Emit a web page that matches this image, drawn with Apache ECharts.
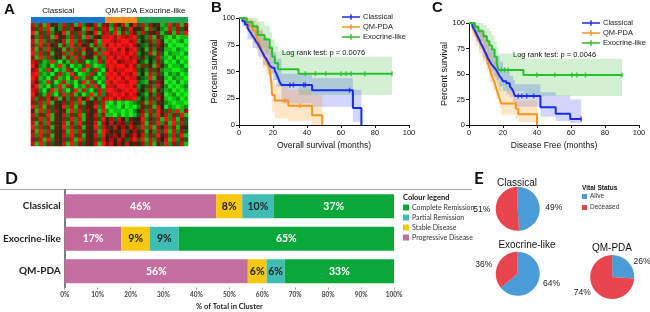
<!DOCTYPE html>
<html><head><meta charset="utf-8">
<script src="https://cdn.jsdelivr.net/npm/echarts@6/dist/echarts.min.js"></script>
<style>html,body{margin:0;padding:0;background:#fff}#c{width:650px;height:312px}</style>
</head><body><div id="c"></div>
<script>
// ---------- Panel A: heatmap ----------
const heatGroups = ['Classical', 'QM-PDA', 'Exocrine-like'];
const heatGroupSizes = [19, 8, 13];
// each row: Classical(19) | QM-PDA(8) | Exocrine-like(13); 0 = green ... 9 = red
const heatRows = [
  "82719 46283 71926 4817|62748159|3827461 293817",
  "73829 15273 84619 2738|71826394|4718352 182736",
  "91738 26491 73826 4917|83917286|2836471 371829",
  "62837 19462 83719 2648|89798789|3428163 102011",
  "81927 36481 92736 4819|98789978|2537284 010120",
  "72938 46172 93846 1729|79898897|4326375 201001",
  "81729 34617 28394 6172|88979689|3517264 110210",
  "92837 16482 93716 4829|97889798|2438173 021102",
  "71928 34617 29384 6172|89798978|3624382 102010",
  "87312 92031 82730 2183|98967889|4315273 010201",
  "96213 02913 02139 2012|89899797|2736184 201120",
  "78129 30218 30291 3820|79788998|3427362 110012",
  "89212 03821 93012 8302|98979879|2518273 021201",
  "97120 38120 39218 3021|89897988|4329164 102110",
  "86219 30281 20391 8302|97988799|3216375 010201",
  "79120 32918 30218 2930|88799897|2437284 201012",
  "87203 91820 39182 0382|99878989|3528163 120101",
  "96318 20392 81302 9182|78989798|4316274 012010",
  "82739 48162 73948 1627|89797889|2427385 101201",
  "73829 16473 82916 4738|10201012|3718264 210110",
  "92817 36492 81736 4928|01102010|2637185 021012",
  "61928 37461 92837 4619|20110102|4728396 382917",
  "82739 16482 73916 4827|11020101|3817294 827391",
  "73928 16473 92816 4739|47385264|5926381 928173",
  "81729 36481 72936 4817|58476375|4817392 719283",
  "92837 16492 83716 4928|64857486|3928174 827164",
  "71928 36471 92836 4719|75648357|4716283 918273",
  "82937 16482 93716 4829|46758468|5827394 728391",
  "73819 26473 81926 4738|57486379|3918275 819273",
  "81927 36481 92736 4819|68574846|4728163 927381"
];

// ---------- Panels B / C: Kaplan-Meier ----------
const kmGroups = ['Classical', 'QM-PDA', 'Exocrine-like'];
const osClassical = [[0,100],[2,97],[3.5,94],[5,91],[6,88],[7,86],[8,83],[9,81],[10,78],[11,76],[12,73],[13,70],[14,67],[15,64],[16,62],[17,59],[18,56],[19,54],[20,53],[21,51],[22,48],[23,44],[24,40],[25,37.5],[43,32.5],[67,16],[72,0]];
const osQM = [[0,100],[3.5,96],[6,92],[8,88],[10,84],[11,80],[12,76],[13,72],[14,68],[15,64],[16,60],[17,56],[18,52],[19,40],[19.5,28],[21,23],[29,18],[43,9],[49,0]];
const osExo = [[0,100],[4.5,96],[8,92],[11,84],[15,80],[18,72],[19.5,64],[21,58],[23,52],[35,48],[90,48]];
const osBandClassical = [[0,100,100],[2,92,100],[5,80,98],[8,72,94],[11,64,88],[14,56,82],[17,48,74],[20,42,68],[22,36,62],[25,20,48],[43,17,44],[67,3,33],[72,3,33]];
const osBandQM = [[0,100,100],[3.5,90,100],[6,82,100],[8,76,98],[10,70,95],[12,62,90],[14,54,84],[16,46,78],[18,38,70],[19,26,56],[19.5,12,42],[21,6,38],[29,4,33],[43,0,28],[49,0,28]];
const osBandExo = [[0,100,100],[4.5,88,100],[8,82,100],[11,72,97],[15,66,93],[18,57,87],[19.5,48,80],[21,42,74],[23,36,69],[35,28,64],[90,28,64]];
const osCensClassical = [30, 32, 38, 39, 65];
const osCensQM = [27, 36];
const osCensExo = [39, 45, 51, 60, 63, 66, 74, 90];

const dfClassical = [[0,100],[2,97],[3,94],[4,91],[5,87],[6,84],[7,80],[8,77],[9,73],[10,70],[11,66],[12,63],[13,60],[14,58],[15,56],[16,54],[17,51],[18,48],[19,46],[20,43],[22,41],[24,38],[25,36],[26,33],[27,28.5],[42,17.5],[51,11],[59.5,6],[66,6]];
const dfQM = [[0,100],[2,96],[3,92],[4,88],[5,85],[6,82],[7,79],[8,76],[9,73],[10,68],[11,62],[12,56],[13,50],[14,46],[15,42],[16,36],[17,31],[18,26],[19,21],[27.5,16],[29,10.5],[40,0]];
const dfExo = [[0,100],[3.5,96],[5.5,92],[8.5,87],[10.5,82],[12,78],[13.5,74],[15,67],[16.3,60],[17.3,54],[32,49],[90,49]];
const dfBandClassical = [[0,100,100],[2,92,100],[4,82,98],[6,74,94],[8,66,88],[10,60,82],[12,52,76],[14,48,72],[16,44,68],[18,38,62],[20,34,56],[22,30,52],[24,27,48],[26,22,44],[27,18,40],[42,8,32],[51,4,29],[59.5,2,25],[66,2,25]];
const dfBandQM = [[0,100,100],[2,86,100],[4,78,98],[6,70,94],[8,62,90],[10,54,84],[12,42,72],[14,34,62],[16,26,52],[18,17,42],[19,10,34],[27.5,6,28],[29,3,24],[40,3,24]];
const dfBandExo = [[0,100,100],[3.5,90,100],[5.5,82,100],[8.5,74,98],[10.5,66,95],[12,60,92],[13.5,54,88],[15,46,82],[16.3,40,76],[17.3,33,70],[32,28.5,65],[90,28.5,65]];
const dfCensClassical = [29, 31, 34, 38, 66];
const dfCensQM = [];
const dfCensExo = [19, 21, 23, 40, 50.5, 60.5, 63.5, 68.5, 90];

// ---------- Panel D: response bars ----------
const dCategories = ['Classical', 'Exocrine-like', 'QM-PDA'];
const dProgressive = [46.0, 17.2, 55.6];
const dStable = [7.9, 8.7, 5.7];
const dPartial = [9.5, 8.7, 5.5];
const dComplete = [36.6, 65.4, 33.2];
const dLegendOrder = ['Complete Remission', 'Partial Remission', 'Stable Disease', 'Progressive Disease'];

// ---------- Panel E: vital status pies ----------
const pieGroups = ['Classical', 'Exocrine-like', 'QM-PDA'];
const pieAlive = [49, 64, 26];
const pieDeceased = [51, 36, 74];

// ================= build =================
const FA = '"Liberation Sans", Arial, sans-serif';
const FD = 'Lato, "Open Sans", sans-serif';
const kmColors = {'Classical':'#1a2cf0','QM-PDA':'#f7941d','Exocrine-like':'#27c12a'};
const bandColors = {'Classical':'rgba(30,50,240,0.2)','QM-PDA':'rgba(255,140,0,0.22)','Exocrine-like':'rgba(34,180,34,0.2)'};

const heatData = [];
heatRows.forEach((r, yi) => {
  const s = r.replace(/[ |]/g, '');
  for (let xi = 0; xi < s.length; xi++) heatData.push([xi, yi, +s[xi]]);
});
const nCols = heatGroupSizes.reduce((a, b) => a + b, 0);

function survAt(curve, t) {
  let s = curve[0][1];
  for (const p of curve) { if (p[0] <= t) s = p[1]; else break; }
  return s;
}

const series = [];
series.push({type:'heatmap', xAxisIndex:0, yAxisIndex:0, data:heatData, silent:true});
heatGroups.forEach((g, i) => {
  series.push({type:'bar', name:'grp'+i, xAxisIndex:1, yAxisIndex:1, stack:'grp', barWidth:'100%',
    data:[heatGroupSizes[i]], itemStyle:{color:['#1b75c9','#f7891f','#1da552'][i]}, silent:true,
    label:{show:true, position:'top', distance:2, formatter:g, fontFamily:FA, fontSize:8, color:'#111',
      offset: i === 0 ? [-10, 0] : [0, 0]}});
});

function bandSeries(xi, band, color, name) {
  return {type:'custom', name, coordinateSystem:'cartesian2d', xAxisIndex:xi, yAxisIndex:xi, silent:true, z:1,
    data:[[band[0][0], band[0][1]]],
    renderItem:(params, api) => {
      const pts = [];
      for (let i = 0; i < band.length; i++) {
        pts.push(api.coord([band[i][0], band[i][2]]));
        if (i < band.length - 1) pts.push(api.coord([band[i+1][0], band[i][2]]));
      }
      for (let i = band.length - 1; i >= 0; i--) {
        if (i < band.length - 1) pts.push(api.coord([band[i+1][0], band[i][1]]));
        pts.push(api.coord([band[i][0], band[i][1]]));
      }
      return {type:'polygon', shape:{points:pts}, style:{fill:color}};
    }};
}

function kmPanel(xi, curves, bands, cens, tag) {
  ['Exocrine-like','Classical','QM-PDA'].forEach(g => {
    series.push(bandSeries(xi, bands[g], bandColors[g], tag + g + '-band'));
  });
  ['QM-PDA','Classical','Exocrine-like'].forEach(g => {
    series.push({type:'line', name:g, xAxisIndex:xi, yAxisIndex:xi, step:'end', symbol:'none', color:kmColors[g],
      lineStyle:{width:2, color:kmColors[g]}, itemStyle:{color:kmColors[g]}, data:curves[g], silent:true, z:3});
    series.push({type:'scatter', name:tag+g+'-cens', xAxisIndex:xi, yAxisIndex:xi, symbol:'rect', symbolSize:[1.5,5],
      itemStyle:{color:kmColors[g]}, data:cens[g].map(t => [t, survAt(curves[g], t)]), silent:true, z:4});
  });
}
kmPanel(2, {'Classical':osClassical,'QM-PDA':osQM,'Exocrine-like':osExo},
  {'Classical':osBandClassical,'QM-PDA':osBandQM,'Exocrine-like':osBandExo},
  {'Classical':osCensClassical,'QM-PDA':osCensQM,'Exocrine-like':osCensExo}, 'B');
kmPanel(3, {'Classical':dfClassical,'QM-PDA':dfQM,'Exocrine-like':dfExo},
  {'Classical':dfBandClassical,'QM-PDA':dfBandQM,'Exocrine-like':dfBandExo},
  {'Classical':dfCensClassical,'QM-PDA':dfCensQM,'Exocrine-like':dfCensExo}, 'C');

const dSeries = [
  ['Progressive Disease', dProgressive, '#c46ea1', '#fff'],
  ['Stable Disease', dStable, '#f8c70f', '#222'],
  ['Partial Remission', dPartial, '#3fbdb4', '#222'],
  ['Complete Remission', dComplete, '#0aa83b', '#fff']
];
dSeries.forEach(([name, vals, col, tcol]) => {
  series.push({type:'bar', name, xAxisIndex:4, yAxisIndex:4, stack:'d', barWidth:24, data:vals, silent:true,
    itemStyle:{color:col},
    label:{show:true, position:'inside', formatter:p => Math.round(p.value) + '%', color:tcol,
      fontFamily:FD, fontSize:10.5, fontWeight:'bold'}});
});

const pieCenters = [[517.7, 208.8], [517.7, 273.8], [612.2, 277]];
const pieCols = [['#4a9cd6','#e8454f'], ['#4a9cd6','#e8454f'], ['#21a0dc','#f3294a']];
pieGroups.forEach((g, i) => {
  series.push({type:'pie', name:'pie'+g, center:pieCenters[i], radius:22, startAngle:90, clockwise:true,
    avoidLabelOverlap:false, silent:true, color:pieCols[i], itemStyle:{borderWidth:0},
    data:[{name:'Alive', value:pieAlive[i]}, {name:'Deceased', value:pieDeceased[i]}],
    label:{position:'outside', formatter:'{c}%', fontFamily:FA, fontSize:8.5, color:'#222'},
    labelLine:{show:false, length:0.5, length2:0}});
});

function kmX(gi, name) {
  return {gridIndex:gi, type:'value', min:0, max:100, interval:20,
    axisLine:{show:true, lineStyle:{color:'#111', width:1}}, axisTick:{show:true, length:3, lineStyle:{color:'#111'}},
    axisLabel:{fontFamily:FA, fontSize:7.5, color:'#111', margin:4}, splitLine:{show:false},
    name, nameLocation:'middle', nameGap:16, nameTextStyle:{fontFamily:FA, fontSize:8.5, color:'#111'}};
}
function kmY(gi) {
  return {gridIndex:gi, type:'value', min:0, max:100, interval:25,
    axisLine:{show:true, lineStyle:{color:'#111', width:1}}, axisTick:{show:true, length:3, lineStyle:{color:'#111'}},
    axisLabel:{fontFamily:FA, fontSize:7.5, color:'#111', margin:4}, splitLine:{show:false},
    name:'Percent survival', nameLocation:'middle', nameGap:19, nameRotate:90,
    nameTextStyle:{fontFamily:FA, fontSize:9, color:'#111'}};
}

const legendIcon = 'path://M0,3.2H20V4.8H0Z M9.2,1H10.8V7H9.2Z';
const txt = (text, x, y, font, extra) => ({type:'text', x, y, silent:true,
  style:Object.assign({text, font, fill:'#111', align:'left', verticalAlign:'middle'}, extra || {})});

const option = {
  animation:false,
  backgroundColor:'#fff',
  grid:[
    {left:31, top:23, width:157, height:123},
    {left:31, top:17, width:157, height:6},
    {left:239, top:18, width:170, height:107},
    {left:469, top:23, width:170, height:102},
    {left:61, top:190, width:333, height:97.5}
  ],
  xAxis:[
    {gridIndex:0, type:'category', data:Array.from({length:nCols}, (_, i) => i), show:false},
    {gridIndex:1, type:'value', min:0, max:nCols, show:false},
    kmX(2, 'Overall survival (months)'),
    kmX(3, 'Disease Free (months)'),
    {gridIndex:4, type:'value', min:0, max:100, interval:10,
      axisLine:{show:false}, axisTick:{show:true, length:2, lineStyle:{color:'#999'}},
      axisLabel:{formatter:'{value}%', fontFamily:FD, fontSize:6.5, fontWeight:'bold', color:'#444', margin:4},
      splitLine:{show:false}, name:'% of Total in Cluster', nameLocation:'middle', nameGap:15,
      nameTextStyle:{fontFamily:FD, fontSize:7.5, fontWeight:'bold', color:'#222'}}
  ],
  yAxis:[
    {gridIndex:0, type:'category', data:heatRows.map((_, i) => i), inverse:true, show:false},
    {gridIndex:1, type:'category', data:['g'], show:false},
    kmY(2),
    kmY(3),
    {gridIndex:4, type:'category', data:dCategories, inverse:true,
      axisLine:{show:true, lineStyle:{color:'#555', width:1.5}}, axisTick:{show:false},
      axisLabel:{fontFamily:FD, fontSize:10, fontWeight:'bold', color:'#222', margin:4}}
  ],
  visualMap:[{show:false, seriesIndex:0, min:0, max:9,
    inRange:{color:['#14f014','#10801a','#241c0e','#981010','#ff1212']}}],
  legend:[
    {data:kmGroups, left:342, top:13, orient:'vertical', itemWidth:18, itemHeight:7, itemGap:2, icon:legendIcon,
      selectedMode:false, padding:0, textStyle:{fontFamily:FA, fontSize:7.5, color:'#222', padding:[0,0,0,-2]}},
    {data:kmGroups, left:582, top:19, orient:'vertical', itemWidth:18, itemHeight:7, itemGap:2, icon:legendIcon,
      selectedMode:false, padding:0, textStyle:{fontFamily:FA, fontSize:7.5, color:'#222', padding:[0,0,0,-2]}},
    {data:dLegendOrder, left:403, top:204, orient:'vertical', itemWidth:6, itemHeight:6, itemGap:3, icon:'rect',
      selectedMode:false, padding:0, textStyle:{fontFamily:FD, fontSize:7, color:'#333', padding:[0,0,0,-2]}},
    {data:['Alive','Deceased'], left:582, top:193, orient:'vertical', itemWidth:5, itemHeight:5, itemGap:4, icon:'rect',
      selectedMode:false, padding:0, textStyle:{fontFamily:FA, fontSize:6.5, color:'#333', padding:[0,0,0,-2]}}
  ],
  graphic:[
    {type:'line', silent:true, shape:{x1:0, y1:189.5, x2:472, y2:189.5}, style:{stroke:'#aaa', lineWidth:1}},
    txt('A', 4, 10, 'bold 15px ' + FA),
    txt('B', 211, 8, 'bold 15px ' + FA),
    txt('C', 432, 8, 'bold 15px ' + FA),
    txt('D', 5, 179, 'bold 17px ' + FD),
    txt('E', 474, 179, 'bold 17px ' + FD),
    txt('Log rank test: p = 0.0076', 282, 52.5, '7.5px ' + FA),
    txt('Log rank test: p = 0.0046', 513, 55, '7.5px ' + FA),
    txt('Colour legend', 403, 197.5, 'bold 7.5px ' + FD),
    txt('Vital Status', 582, 188, 'bold 6.5px ' + FA),
    txt('Classical', 517, 183, '10px ' + FA, {align:'center'}),
    txt('Exocrine-like', 527, 245.5, '10px ' + FA, {align:'center'}),
    txt('QM-PDA', 612, 248, '10px ' + FA, {align:'center'})
  ],
  series
};

const chart = echarts.init(document.getElementById('c'), null, {renderer:'canvas'});
chart.setOption(option);
</script>
</body></html>
